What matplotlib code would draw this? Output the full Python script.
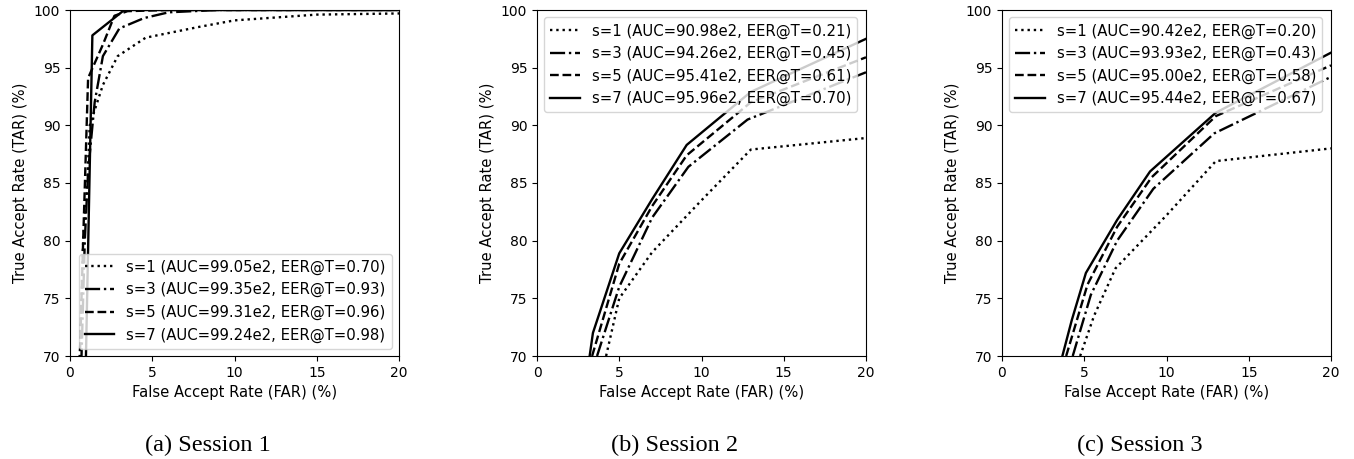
import numpy as np
import matplotlib
matplotlib.use("Agg")
import matplotlib.pyplot as plt

# ROC points per session: FAR (%) vs TAR (%) for window sizes s=1,3,5,7
styles = [":", "-.", "--", "-"]
sizes = [1, 3, 5, 7]

s1_far = [
    [0.5, 0.8, 1.05, 1.2, 2.0, 2.9, 4.6, 7.9, 10.0, 15.0, 20.0],
    [0.6, 0.9, 1.1, 1.5, 2.0, 3.0, 4.5, 6.0, 9.0, 20.0],
    [0.5, 0.8, 1.1, 2.0, 2.7, 3.5, 6.0, 20.0],
    [0.7, 0.97, 1.36, 3.3, 20.0],
]
s1_tar = [
    [65.0, 80.0, 85.0, 90.0, 93.5, 96.0, 97.6, 98.55, 99.1, 99.6, 99.7],
    [65.0, 80.0, 86.0, 92.0, 96.0, 98.4, 99.3, 99.8, 100.0, 100.0],
    [65.0, 80.0, 94.1, 97.0, 99.5, 99.9, 100.0, 100.0],
    [60.0, 70.0, 97.8, 100.0, 100.0],
]
s1_legend = [
    "s=1 (AUC=99.05e2, EER@T=0.70)",
    "s=3 (AUC=99.35e2, EER@T=0.93)",
    "s=5 (AUC=99.31e2, EER@T=0.96)",
    "s=7 (AUC=99.24e2, EER@T=0.98)",
]

s2_far = [
    [4.2, 5.0, 7.0, 10.0, 13.0, 20.0],
    [3.65, 5.0, 7.0, 9.2, 12.8, 20.0],
    [3.35, 5.0, 7.0, 9.1, 13.0, 20.0],
    [3.2, 3.4, 5.0, 7.0, 9.1, 13.0, 20.0],
]
s2_tar = [
    [70.0, 75.0, 79.0, 83.5, 87.9, 88.9],
    [70.0, 76.0, 82.0, 86.4, 90.5, 94.6],
    [70.0, 78.0, 83.0, 87.4, 92.0, 95.9],
    [70.0, 72.0, 78.9, 83.6, 88.3, 92.9, 97.5],
]
s2_legend = [
    "s=1 (AUC=90.98e2, EER@T=0.21)",
    "s=3 (AUC=94.26e2, EER@T=0.45)",
    "s=5 (AUC=95.41e2, EER@T=0.61)",
    "s=7 (AUC=95.96e2, EER@T=0.70)",
]

s3_far = [
    [4.75, 5.6, 6.9, 10.0, 13.0, 20.0],
    [4.3, 5.4, 7.0, 9.2, 12.9, 20.0],
    [3.9, 5.2, 7.0, 9.1, 13.0, 20.0],
    [3.67, 4.24, 5.1, 7.0, 9.0, 13.0, 20.0],
]
s3_tar = [
    [70.0, 73.5, 77.6, 82.2, 86.9, 88.0],
    [70.0, 75.3, 80.0, 84.5, 89.3, 94.2],
    [70.0, 76.2, 81.2, 85.5, 90.8, 95.2],
    [70.0, 73.1, 77.2, 81.8, 86.0, 91.1, 96.3],
]
s3_legend = [
    "s=1 (AUC=90.42e2, EER@T=0.20)",
    "s=3 (AUC=93.93e2, EER@T=0.43)",
    "s=5 (AUC=95.00e2, EER@T=0.58)",
    "s=7 (AUC=95.44e2, EER@T=0.67)",
]

captions = ["(a) Session 1", "(b) Session 2", "(c) Session 3"]
sessions = [
    (s1_far, s1_tar, s1_legend, "lower right"),
    (s2_far, s2_tar, s2_legend, "upper left"),
    (s3_far, s3_tar, s3_legend, "upper left"),
]

fig = plt.figure(figsize=(13.54, 4.59), dpi=100)
lefts = [70, 537, 1002]
W, H = 1354.0, 459.0

for k, (far, tar, labels, loc) in enumerate(sessions):
    ax = fig.add_axes([lefts[k] / W, 1 - 356 / H, 329 / W, 346 / H])
    for i in range(4):
        ax.plot(far[i], tar[i], linestyle=styles[i], color="black",
                linewidth=1.7, label=labels[i])
    ax.set_xlim(0, 20)
    ax.set_ylim(70, 100)
    ax.set_xticks([0, 5, 10, 15, 20])
    ax.set_yticks([70, 75, 80, 85, 90, 95, 100])
    ax.tick_params(labelsize=10)
    ax.set_xlabel("False Accept Rate (FAR) (%)", fontsize=10.6)
    ax.set_ylabel("True Accept Rate (TAR) (%)", fontsize=10.6)
    ax.legend(loc=loc, fontsize=10.7, framealpha=0.8)
    fig.text((lefts[k] + 138) / W, 1 - 445 / H, captions[k],
             family="Liberation Serif", fontsize=17.5, ha="center", va="center")

fig.savefig("out.png", dpi=100)
